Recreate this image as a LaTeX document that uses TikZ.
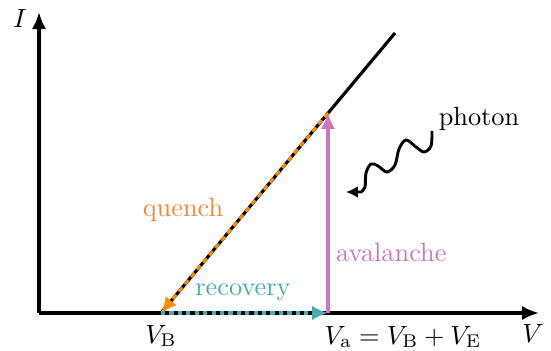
\documentclass[tikz,border=0pt]{standalone}
\usetikzlibrary{arrows.meta}
\definecolor{qorange}{RGB}{255,140,0}
\definecolor{qtext}{RGB}{238,136,51}
\definecolor{rteal}{RGB}{70,170,178}
\definecolor{apurple}{RGB}{204,119,187}
\begin{document}
\begin{tikzpicture}[x=0.38pt,y=-0.38pt,
  axis/.style={line width=1.4pt,-{Latex[length=6.5pt,width=5.5pt]}},
  curve/.style={line width=1.2pt},
  tip/.style={-{Latex[length=6pt,width=5.5pt]}},
  lbl/.style={inner sep=1pt}]
\useasboundingbox (0,0) rectangle (551,351);
\coordinate (O) at (39,313);
\coordinate (xe) at (539,313);
\coordinate (ye) at (39,12);
\coordinate (VB) at (161,313);
\coordinate (Va) at (328,313);
\coordinate (Top) at (395,33);
\coordinate (Vtop) at (328,113);
\coordinate (ph2) at (346,192);
% axes
\draw[axis] (O) -- (xe);
\draw[axis] (O) -- (ye);
% IV line
\draw[curve] (VB) -- (Top);
% quench
\draw[qorange,line width=1.1pt,dash pattern=on 2pt off 1.6pt,tip] (Vtop) -- (VB);
% recovery
\draw[rteal,line width=1.2pt,dash pattern=on 1.6pt off 1.6pt,tip] (VB) -- (Va);
% avalanche
\draw[apurple,line width=1.3pt,tip] (Va) -- (Vtop);
% photon
\draw[line width=1.1pt,-{Latex[length=4.5pt,width=4.5pt]}] plot[smooth,tension=0.55] coordinates {(432,131) (431,146) (424,152) (416,147) (406,140) (399,149) (395,165) (387,172) (378,166) (371,164) (366,173) (365,187) (361,192)} -- (ph2);
% labels
\node[lbl] (lI) at (20,19) {$I$};
\node[lbl] (lV) at (533,334) {$V$};
\node[lbl] (lVB) at (161,336) {$V_{\mathrm{B}}$};
\node[lbl] (lVa) at (403,337) {$V_{\mathrm{a}} = V_{\mathrm{B}} + V_{\mathrm{E}}$};
\node[lbl,text=qtext] (lq) at (183,210) {quench};
\node[lbl,text=apurple,anchor=west] (la) at (333,253) {avalanche};
\node[lbl,text=rteal] (lr) at (243,292) {recovery};
\node[lbl] (lp) at (479,119) {photon};
\end{tikzpicture}
\end{document}
